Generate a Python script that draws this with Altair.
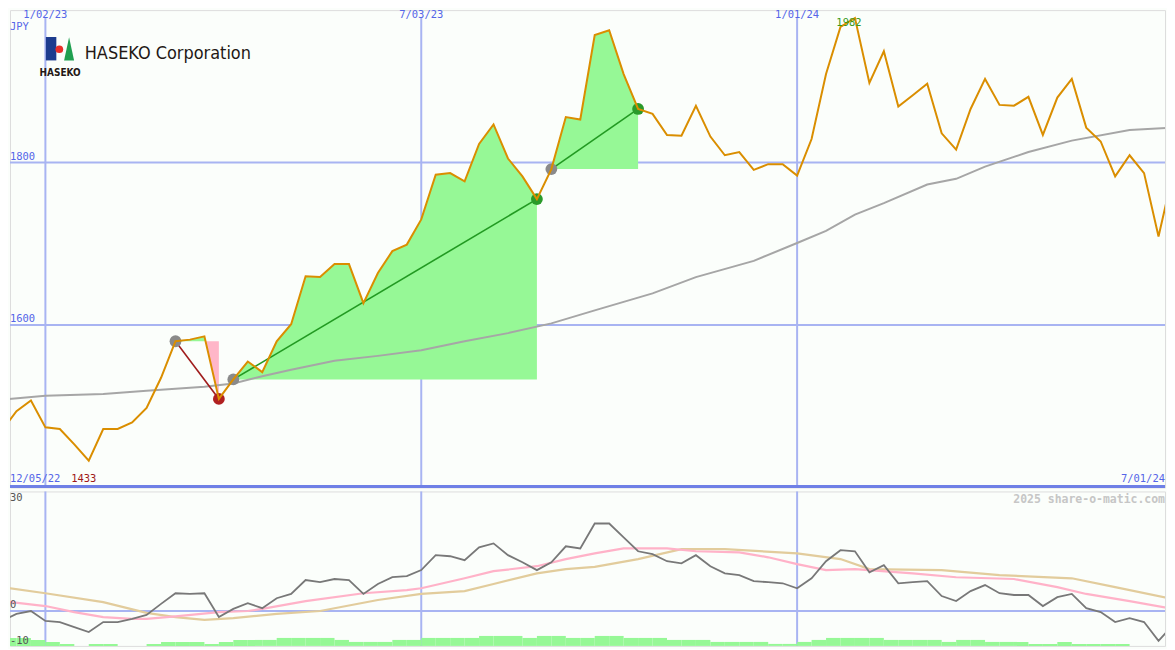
import altair as alt
import pandas as pd

# ---------------- data ----------------
START = "2022-12-12"
END = "2024-07-01"
N_WEEKS = 82

price = [1470, 1494, 1507, 1474, 1472, 1453, 1433, 1472, 1472, 1480,
         1498, 1535, 1580, 1582, 1586, 1509, 1533, 1555, 1542, 1580,
         1601, 1660, 1659, 1675, 1675, 1627, 1664, 1691, 1699, 1730,
         1785, 1787, 1777, 1823, 1847, 1805, 1783, 1755, 1792, 1856,
         1853, 1957, 1963, 1909, 1866, 1860, 1834, 1833, 1870, 1832,
         1809, 1813, 1791, 1798, 1798, 1784, 1829, 1909, 1967, 1978,
         1898, 1937, 1869, 1883, 1897, 1836, 1816, 1866, 1903, 1871,
         1870, 1881, 1834, 1880, 1903, 1843, 1826, 1783, 1809, 1787,
         1709, 1787]

ma_week = [0, 3, 7, 10, 14, 16, 18, 20, 23, 26, 29, 32, 35, 38, 41, 45, 48, 52,
           55, 57, 59, 61, 64, 66, 68, 71, 74, 78, 81]
ma_value = [1508, 1513, 1515, 1519, 1524, 1528, 1537, 1545, 1556, 1562, 1569, 1580,
            1590, 1602, 1618, 1639, 1659, 1679, 1701, 1716, 1736, 1750, 1773, 1780,
            1795, 1813, 1827, 1840, 1843]

momentum = [-2.8, -0.8, 0, -2.8, -3.1, -4.5, -5.9, -3.1, -3.1, -2.2,
            -1.1, 2.0, 5.0, 4.8, 5.0, -1.7, 0.6, 2.2, 0.8, 3.6,
            4.8, 8.7, 8.1, 9.0, 8.7, 4.8, 7.6, 9.5, 9.8, 11.5,
            15.7, 15.4, 14.3, 17.9, 19.0, 15.7, 13.7, 11.5, 13.7, 18.2,
            17.6, 24.6, 24.6, 20.7, 16.8, 16.0, 14.0, 13.4, 15.7, 12.6,
            10.6, 10.1, 8.4, 8.1, 7.8, 6.4, 9.2, 14.0, 17.1, 16.8,
            10.9, 12.9, 7.8, 8.1, 8.4, 4.2, 2.8, 5.6, 7.3, 5.0,
            4.5, 4.5, 1.4, 3.9, 4.8, 0.8, -0.3, -3.1, -2.0, -3.1,
            -8.4, -3.9]

pink_week = [0, 3, 5, 7, 9, 10, 12, 15, 17, 18, 21, 25, 28, 29, 32, 34, 37, 39, 41,
             43, 46, 48, 51, 53, 55, 57, 59, 63, 66, 70, 73, 75, 78, 81]
pink_value = [2.8, 1.4, -0.3, -1.7, -2.2, -2.2, -1.5, -0.3, 0, 0.6, 2.8, 5.0, 5.9,
              6.4, 9.2, 11.2, 12.6, 14.6, 16.2, 17.6, 17.6, 16.8, 16.5, 15.1, 13.2,
              11.5, 11.8, 10.6, 9.5, 9.0, 6.7, 4.8, 2.8, 0.6]

tan_week = [0, 3, 7, 10, 12, 14, 16, 19, 22, 26, 29, 32, 34, 37, 39, 41, 44, 47, 50,
            55, 58, 60, 65, 69, 74, 77, 81]
tan_value = [6.7, 5.0, 2.5, -0.5, -1.7, -2.5, -2.0, -0.8, 0, 3.1, 4.8, 5.6, 7.6,
             10.6, 11.8, 12.4, 14.6, 17.4, 17.4, 16.2, 14.6, 11.8, 11.5, 10.1, 9.2,
             6.7, 3.4]

volume_level = [4, 4, 3, 2, 1, 0, 1, 1, 0, 0,
                1, 2, 2, 2, 1, 2, 3, 3, 3, 4,
                4, 4, 4, 3, 2, 2, 2, 3, 3, 4,
                4, 4, 4, 5, 5, 5, 4, 5, 5, 4,
                4, 5, 5, 4, 4, 4, 3, 3, 3, 2,
                2, 2, 2, 1, 1, 2, 3, 4, 4, 4,
                4, 3, 3, 3, 3, 2, 3, 3, 2, 2,
                2, 1, 1, 2, 1, 1, 1, 1, 0, 0,
                0]

trade_entry = [12, 16, 38]
trade_exit = [15, 37, 44]

grid_dates = ["2023-01-02", "2023-07-03", "2024-01-01"]
grid_labels = ["1/02/23", "7/03/23", "1/01/24"]
price_grid = [1800, 1600]
osc_labels_top = [30, 0]
osc_labels_bottom = [-10]
range_start_label = "12/05/22"
range_end_label = "7/01/24"
low_label = "1433"
high_label = "1982"
currency = "JPY"
company = "HASEKO Corporation"
watermark = "2025 share-o-matic.com"

# ---------------- layout / styles ----------------
BG = "#FBFEFB"
GRID = "#A8B4F2"
DIV = "#6F80E6"
BLUE_TXT = "#5566E8"
ORANGE = "#DA8E00"
MONO = "DejaVu Sans Mono"
NARROW = "Liberation Sans Narrow, Arial Narrow, DejaVu Sans Condensed, Liberation Sans, sans-serif"

# the visible page area is 1159 x 634 starting at (8, 8)
W = 1159
H_TOP = 479
H_BOT = 155
OSC_PX = 3.57   # pixels per oscillator unit
VOL_PX = 2.0    # pixels per volume step


def tx(x):  # reference page x -> chart x
    return x - 8


def ty(y):  # reference page y -> top panel y
    return y - 8


def by(y):  # reference page y -> bottom panel y
    return y - 487


dates = pd.date_range(START, periods=N_WEEKS, freq="7D")
t0, t1 = pd.Timestamp(START), pd.Timestamp(END)
span = t1 - t0
d_start = t0 + span * (8 / 1175)
d_end = t1 - span * (8 / 1175)


def dt(ts):
    return alt.DateTime(year=ts.year, month=ts.month, date=ts.day, hours=ts.hour,
                        minutes=ts.minute, seconds=ts.second)


def wk(i):
    return dates[0] + pd.Timedelta(days=7 * i)


xs = alt.Scale(domain=[dt(d_start), dt(d_end)])
ys = alt.Scale(domain=[1400, 1800 + (161 - 8) / 0.815], nice=False, zero=False)
zero_local = 607 - 487
os_ = alt.Scale(domain=[-(H_BOT - zero_local) / OSC_PX, zero_local / OSC_PX],
                nice=False, zero=False)
vs = alt.Scale(domain=[0, H_BOT / VOL_PX], nice=False, zero=True)

X = alt.X("date:T", scale=xs, axis=None)
dummy = alt.Data(values=[{"a": 1}])

price_df = pd.DataFrame({"date": dates, "price": price})
ma_df = pd.DataFrame({"date": [wk(i) for i in ma_week], "v": ma_value})
grid_df = pd.DataFrame({"date": pd.to_datetime(grid_dates), "label": grid_labels})
pgrid_df = pd.DataFrame({"v": price_grid, "label": [str(v) for v in price_grid]})

# trade fills (crossings computed from the data)
fill_rows, line_rows, dot_rows = [], [], []
for t, (a, b) in enumerate(zip(trade_entry, trade_exit)):
    base = price[a]
    result = "win" if price[b] >= base else "loss"
    for k in range(a, b + 1):
        if k > a:
            p0, p1 = price[k - 1] - base, price[k] - base
            if p0 * p1 < 0:
                f = p0 / (p0 - p1)
                d = wk(k - 1) + (wk(k) - wk(k - 1)) * f
                fill_rows.append({"trade": t, "date": d, "price": base, "base": base})
        fill_rows.append({"trade": t, "date": wk(k), "price": price[k], "base": base})
    line_rows.append({"trade": t, "date": wk(a), "v": price[a], "result": result})
    line_rows.append({"trade": t, "date": wk(b), "v": price[b], "result": result})
    dot_rows.append({"date": wk(a), "v": price[a], "kind": "entry"})
    dot_rows.append({"date": wk(b), "v": price[b], "kind": result})
fill_df = pd.DataFrame(fill_rows)
fill_df["upper"] = fill_df[["price", "base"]].max(axis=1)
fill_df["lower"] = fill_df[["price", "base"]].min(axis=1)
tline_df = pd.DataFrame(line_rows)
dot_df = pd.DataFrame(dot_rows)

imin = price.index(min(price))
imax = price.index(max(price))

# ---------------- top panel ----------------
vgrid_top = alt.Chart(grid_df).mark_rule(color=GRID, strokeWidth=2).encode(
    x=X, y=alt.value(ty(16)), y2=alt.value(H_TOP))
hgrid = alt.Chart(pgrid_df).mark_rule(color=GRID, strokeWidth=2).encode(
    y=alt.Y("v:Q", scale=ys, axis=None))
divider = alt.Chart(dummy).mark_rule(color=DIV, strokeWidth=3).encode(
    x=alt.value(0), x2=alt.value(W), y=alt.value(ty(486)))

green_fill = alt.Chart(fill_df).mark_area(color="#96F896", opacity=1).encode(
    x=X, y=alt.Y("upper:Q", scale=ys, axis=None), y2="base:Q", detail="trade:N")
pink_fill = alt.Chart(fill_df).mark_area(color="#FFB6C8", opacity=1).encode(
    x=X, y=alt.Y("lower:Q", scale=ys, axis=None), y2="base:Q", detail="trade:N")

ma_line = alt.Chart(ma_df).mark_line(color="#A6A6A6", strokeWidth=2, clip=True).encode(
    x=X, y=alt.Y("v:Q", scale=ys, axis=None))


def trade_line(result, color):
    return alt.Chart(tline_df[tline_df.result == result]).mark_line(
        strokeWidth=1.6, color=color).encode(
        x=X, y=alt.Y("v:Q", scale=ys, axis=None), detail="trade:N")


def dot_layer(kind, color):
    return alt.Chart(dot_df[dot_df.kind == kind]).mark_circle(
        size=140, opacity=1, color=color).encode(
        x=X, y=alt.Y("v:Q", scale=ys, axis=None))


price_line = alt.Chart(price_df).mark_line(color=ORANGE, strokeWidth=2,
                                           clip=True).encode(
    x=X, y=alt.Y("price:Q", scale=ys, axis=None))

TXT = dict(font=MONO, fontSize=10.5)
date_txt = alt.Chart(grid_df).mark_text(color=BLUE_TXT, align="center",
                                        baseline="top", **TXT).encode(
    x=X, y=alt.value(0), text="label:N")
pgrid_txt = alt.Chart(pgrid_df).mark_text(color=BLUE_TXT, align="left",
                                          baseline="bottom", dy=-1, **TXT).encode(
    x=alt.value(0), y=alt.Y("v:Q", scale=ys, axis=None), text="label:N")
jpy_txt = alt.Chart(dummy).mark_text(color=BLUE_TXT, align="left", baseline="top",
                                     text=currency, **TXT).encode(
    x=alt.value(0), y=alt.value(12))
start_txt = alt.Chart(dummy).mark_text(color=BLUE_TXT, align="left", baseline="middle",
                                       text=range_start_label, **TXT).encode(
    x=alt.value(0), y=alt.value(ty(479)))
end_txt = alt.Chart(dummy).mark_text(color=BLUE_TXT, align="right", baseline="middle",
                                     text=range_end_label, **TXT).encode(
    x=alt.value(W), y=alt.value(ty(479)))
low_df = pd.DataFrame({"date": [wk(imin)], "label": [low_label]})
high_df = pd.DataFrame({"date": [wk(imax)], "label": [high_label]})
low_txt = alt.Chart(low_df).mark_text(color="#A01818", align="center",
                                      baseline="middle", dx=-5, **TXT).encode(
    x=X, y=alt.value(ty(479)), text="label:N")
high_txt = alt.Chart(high_df).mark_text(color="#3A9A1A", align="center",
                                        baseline="middle", dx=-6, **TXT).encode(
    x=X, y=alt.value(ty(21)), text="label:N")

# logo
logo_blue = alt.Chart(dummy).mark_rect(color="#1D3C8E").encode(
    x=alt.value(tx(44)), x2=alt.value(tx(54.5)), y=alt.value(ty(35)),
    y2=alt.value(ty(58.5)))
logo_red = alt.Chart(dummy).mark_point(filled=True, shape="circle", size=60,
                                       color="#E8302A", opacity=1).encode(
    x=alt.value(tx(57.5)), y=alt.value(ty(47.3)))
logo_green = alt.Chart(dummy).mark_point(filled=True, shape="M0,-1L0.43,1L-0.43,1Z",
                                         size=545, color="#1FA050", opacity=1).encode(
    x=alt.value(tx(67.3)), y=alt.value(ty(46.8)))
logo_small = alt.Chart(dummy).mark_text(font=NARROW, fontSize=10, fontWeight="bold",
                                        color="#231815", align="center",
                                        baseline="alphabetic", text="HASEKO").encode(
    x=alt.value(tx(58.3)), y=alt.value(ty(74)))
logo_name = alt.Chart(dummy).mark_text(font=NARROW, fontSize=18, color="#231815",
                                       align="left", baseline="alphabetic",
                                       text=company).encode(
    x=alt.value(tx(83)), y=alt.value(ty(57)))

top = alt.layer(
    vgrid_top, hgrid, green_fill, pink_fill, ma_line,
    trade_line("win", "#229A22"), trade_line("loss", "#A01C1C"),
    dot_layer("entry", "#8A8A8A"), dot_layer("win", "#2A9A2A"),
    dot_layer("loss", "#B02020"),
    price_line, divider, date_txt, pgrid_txt, jpy_txt, start_txt, end_txt,
    low_txt, high_txt, logo_blue, logo_red, logo_green, logo_small, logo_name,
).properties(width=W, height=H_TOP)

# ---------------- bottom panel ----------------
mom_df = pd.DataFrame({"date": dates, "v": momentum})
pink_df = pd.DataFrame({"date": [wk(i) for i in pink_week], "v": pink_value})
tan_df = pd.DataFrame({"date": [wk(i) for i in tan_week], "v": tan_value})
vol_df = pd.DataFrame({"date": dates[:-1], "date2": dates[1:], "v": volume_level,
                       "zero": 0})
zero_df = pd.DataFrame({"v": [0]})

vgrid_bot = alt.Chart(grid_df).mark_rule(color=GRID, strokeWidth=2).encode(
    x=X, y=alt.value(0), y2=alt.value(H_BOT))
zero_line = alt.Chart(zero_df).mark_rule(color=GRID, strokeWidth=2).encode(
    y=alt.Y("v:Q", scale=os_, axis=None))
vol_bars = alt.Chart(vol_df).mark_rect(color="#96F896", clip=True).encode(
    x=X, x2="date2:T", y=alt.Y("v:Q", scale=vs, axis=None), y2="zero:Q")
tan_line = alt.Chart(tan_df).mark_line(color="#E2CC9C", strokeWidth=2.2,
                                       clip=True).encode(
    x=X, y=alt.Y("v:Q", scale=os_, axis=None))
pink_line = alt.Chart(pink_df).mark_line(color="#FFB2C8", strokeWidth=2.2,
                                         clip=True).encode(
    x=X, y=alt.Y("v:Q", scale=os_, axis=None))
mom_line = alt.Chart(mom_df).mark_line(color="#787878", strokeWidth=1.8,
                                       clip=True).encode(
    x=X, y=alt.Y("v:Q", scale=os_, axis=None))
lab_top_df = pd.DataFrame({"v": osc_labels_top,
                           "label": [str(v) for v in osc_labels_top]})
lab_bot_df = pd.DataFrame({"v": osc_labels_bottom,
                           "label": [str(v) for v in osc_labels_bottom]})
osc_txt1 = alt.Chart(lab_top_df).mark_text(color="#555555", align="left",
                                           baseline="bottom", dy=-1, **TXT).encode(
    x=alt.value(0), y=alt.Y("v:Q", scale=os_, axis=None), text="label:N")
osc_txt2 = alt.Chart(lab_bot_df).mark_text(color="#555555", align="left",
                                           baseline="middle", **TXT).encode(
    x=alt.value(0), y=alt.value(by(637)), text="label:N")
wm_txt = alt.Chart(dummy).mark_text(font=MONO, fontSize=11.5, fontWeight="bold",
                                    color="#C6C6C6", align="right", baseline="middle",
                                    text=watermark).encode(
    x=alt.value(W), y=alt.value(by(496)))

bottom = alt.layer(
    alt.layer(vgrid_bot, zero_line),
    vol_bars,
    alt.layer(tan_line, pink_line, mom_line, osc_txt1, osc_txt2, wm_txt),
).resolve_scale(y="independent").properties(width=W, height=H_BOT)

chart = alt.vconcat(top, bottom, spacing=0).configure_view(
    stroke=None).configure(background=BG).properties(padding=0)

chart.save("out.html", embed_options={"renderer": "svg", "actions": False})
